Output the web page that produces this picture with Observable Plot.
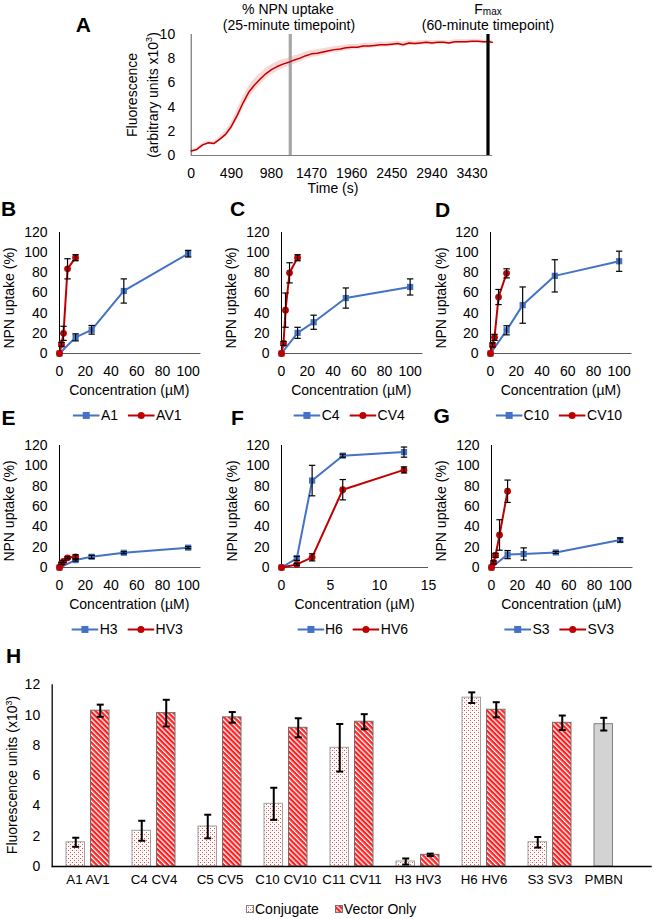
<!DOCTYPE html>
<html><head><meta charset="utf-8">
<script src="https://cdn.jsdelivr.net/npm/d3@7"></script>
<script src="https://cdn.jsdelivr.net/npm/@observablehq/plot@0.6"></script>
<style>
body{margin:0;background:#fff;font-family:"Liberation Sans",Arial,sans-serif;}
#root{position:relative;width:654px;height:919px;overflow:hidden;background:#fff;}
.abs{position:absolute;white-space:nowrap;color:#000;font-size:14px;line-height:1.15;}
svg{position:absolute;}
.leg svg{position:static;}
</style></head><body><div id="root"></div>
<script>
const FONT = "Liberation Sans, Arial, sans-serif";
const BLUE = "#4472C4", RED = "#C00000";

// ---------- Panel A data ----------
const aTime = [0,70,140,210,280,350,420,490,560,630,700,770,840,910,980,1050,1120,1190,1260,1330,1400,1470,1540,1610,1680,1750,1820,1890,1960,2030,2100,2170,2240,2310,2380,2450,2520,2590,2660,2730,2800,2870,2940,3010,3080,3150,3220,3290,3360,3430,3500,3570,3640,3680];
const aMean = [0.38,0.5,0.88,1.05,1.0,1.35,1.75,2.4,3.3,4.3,5.2,5.8,6.3,6.75,7.1,7.35,7.55,7.7,7.9,8.05,8.25,8.4,8.45,8.55,8.65,8.75,8.8,8.9,8.95,8.95,9.05,9.05,9.1,9.15,9.15,9.2,9.25,9.15,9.3,9.25,9.3,9.35,9.3,9.35,9.35,9.3,9.4,9.4,9.4,9.45,9.45,9.4,9.4,9.35];
const aErr  = [0.12,0.12,0.15,0.15,0.15,0.2,0.25,0.35,0.45,0.5,0.5,0.5,0.45,0.45,0.4,0.4,0.38,0.35,0.35,0.32,0.3,0.3,0.28,0.28,0.26,0.25,0.25,0.24,0.24,0.22,0.22,0.22,0.2,0.2,0.2,0.2,0.2,0.2,0.2,0.18,0.18,0.18,0.18,0.18,0.16,0.16,0.16,0.16,0.16,0.16,0.15,0.15,0.15,0.15];
const aTicks = [0,490,980,1470,1960,2450,2940,3430];
const aYTicks = [0,2,4,6,8,10];
const aTimepoints = [1210, 3625]; // 25-minute and 60-minute markers

// ---------- Panels B-G data ----------
const smallYTicks = [0,20,40,60,80,100,120];
const ticks100 = [0,20,40,60,80,100];
const ticks15 = [0,5,10,15];
const concConj = [0,12.5,25,50,100];
const concVec  = [0,1.56,3.125,6.25,12.5];
const concH6   = [0,1.56,3.125,6.25,12.5];

const A1  = [0,16,23.5,62,99],    A1e  = [0,3.5,4.3,12,3.3];
const AV1 = [0,9,20,84,95],       AV1e = [0,2,7,10,3];
const C4  = [0,20.5,31,55,66],    C4e  = [0,5.5,7,10,8];
const CV4 = [0,10,43,80,95],      CV4e = [0,2,17,10,3];
const C10 = [0,23,48,77,91.5],    C10e = [0,4.5,18,16,10];
const CV10= [0,8.5,16,56,79.5],   CV10e= [0,2,3,7.5,4.5];
const H3  = [0,7.3,10.5,14.5,19.5], H3e = [0,1,1.5,1,1];
const HV3 = [0,4,6,9.5,10.5],     HV3e = [0,1,1,1,2];
const H6  = [0,9,85.5,110,113.5], H6e  = [0,2,15,1.5,5];
const HV6 = [0,3,10,76.5,96],     HV6e = [0,1,3.5,10,3];
const S3  = [0,12.7,13.3,14.8,27], S3e = [0,4,6,1,2];
const SV3 = [0,5,12,32,75],       SV3e = [0,1.5,2,15,11];

// ---------- Panel H data ----------
const hCats = ["A1 AV1","C4 CV4","C5 CV5","C10 CV10","C11 CV11","H3 HV3","H6 HV6","S3 SV3","PMBN"];
const conjVals = [1.6,2.36,2.64,4.14,7.84,0.33,11.15,1.6];
const conjErr  = [0.3,0.66,0.78,1.06,1.57,0.2,0.35,0.35];
const vecVals  = [10.29,10.13,9.85,9.16,9.56,0.77,10.35,9.49];
const vecErr   = [0.4,0.88,0.35,0.63,0.5,0.08,0.5,0.48];
const pmbnVal = [9.4], pmbnErr = [0.42];
const hYTicks = [0,2,4,6,8,10,12];

// horizontal error-bar cap symbol (half-width = r)
const capSymbol = {draw(ctx, size) { const r = Math.sqrt(size / Math.PI); ctx.moveTo(-r, 0); ctx.lineTo(r, 0); }};

const root = document.getElementById("root");
function txt(html, x, y, o = {}) {
  const d = document.createElement("div");
  d.className = "abs";
  d.innerHTML = html;
  d.style.left = x + "px"; d.style.top = y + "px";
  d.style.fontSize = (o.size || 14) + "px";
  if (o.bold) d.style.fontWeight = "bold";
  if (o.align) d.style.textAlign = o.align;
  if (o.lh) d.style.lineHeight = o.lh;
  const tx = o.anchor === "start" ? "0" : "-50%";
  d.style.transform = `translate(${tx},-50%)` + (o.rotate ? ` rotate(${o.rotate}deg)` : "");
  root.appendChild(d);
  return d;
}
function place(svg, left, top) {
  svg.style.left = left + "px"; svg.style.top = top + "px";
  root.appendChild(svg);
}
const baseStyle = {fontFamily: FONT, fontSize: "14px", background: "transparent", overflow: "visible", color: "#000"};

// ---------- Panel A ----------
(function () {
  const data = aTime.map((t, i) => ({t, m: aMean[i], e: aErr[i]}));
  const x0 = 190.7, x1 = 492, yTop = 34, yBot = 155, left = 100, top = 20;
  const ml = x0 - left, mr = 10, mt = yTop - top, mb = 26;
  const svg = Plot.plot({
    width: (x1 - x0) + ml + mr, height: (yBot - yTop) + mt + mb,
    marginLeft: ml, marginRight: mr, marginTop: mt, marginBottom: mb,
    style: baseStyle,
    x: {domain: [0, 3680]},
    y: {domain: [0, 10]},
    marks: [
      Plot.axisX({ticks: aTicks, tickFormat: d => String(d), tickSize: 0, tickPadding: 13, label: null}),
      Plot.axisY({ticks: aYTicks, tickSize: 0, tickPadding: 16, label: null}),
      Plot.areaY(data, {x: "t", y1: d => d.m - d.e, y2: d => d.m + d.e, fill: "#f6c9c9", fillOpacity: 0.75}),
      Plot.ruleY([0], {stroke: "#7f7f7f"}),
      Plot.ruleX([0], {stroke: "#595959"}),
      Plot.ruleX(aTimepoints.slice(0, 1), {stroke: "#a6a6a6", strokeWidth: 3.2}),
      Plot.line(data, {x: "t", y: "m", stroke: RED, strokeWidth: 1.5}),
      Plot.ruleX(aTimepoints.slice(1), {stroke: "#000", strokeWidth: 3.2})
    ]
  });
  place(svg, left, top);
  txt("A", 83.3, 25, {size: 21, bold: true});
  txt("% NPN uptake", 288, 9);
  txt("(25-minute timepoint)", 289, 25);
  txt("F<sub style='font-size:10px;vertical-align:-1px'>max</sub>", 488, 9);
  txt("(60-minute timepoint)", 488, 25);
  txt("Time (s)", 333, 188);
  txt("Fluorescence<br>(arbitrary units x10<sup style='font-size:9px'>3</sup>)", 143, 95, {rotate: -90, align: "center", lh: "17px"});
})();

// ---------- Small panels ----------
function legend(items, cx, cy) {
  const d = document.createElement("div");
  d.className = "abs leg";
  d.style.display = "flex"; d.style.alignItems = "center"; d.style.gap = "10px";
  d.style.left = cx + "px"; d.style.top = cy + "px";
  d.style.transform = "translate(-50%,-50%)";
  d.innerHTML = items.map(({name, color, symbol}) => {
    const m = symbol === "square"
      ? `<rect x="10" y="2" width="7" height="7" fill="${color}"/>`
      : `<circle cx="13.5" cy="5.5" r="3.5" fill="${color}"/>`;
    return `<span style="display:flex;align-items:center;gap:1px"><svg width="27" height="11"><line x1="0" y1="5.5" x2="27" y2="5.5" stroke="${color}" stroke-width="2"/>${m}</svg><span>${name}</span></span>`;
  }).join("");
  root.appendChild(d);
}
function errMarks(data, o) {
  const {sw, cap, dx = 0} = o;
  return [
    Plot.link(data, {x1: o.x, x2: o.x, y1: d => d[o.y] - d.e, y2: d => d[o.y] + d.e, dx, stroke: "#000", strokeWidth: sw}),
    Plot.dot(data, {x: o.x, y: d => d[o.y] - d.e, dx, symbol: capSymbol, r: cap, stroke: "#000", strokeWidth: sw, fill: "none"}),
    Plot.dot(data, {x: o.x, y: d => d[o.y] + d.e, dx, symbol: capSymbol, r: cap, stroke: "#000", strokeWidth: sw, fill: "none"})
  ];
}
function smallPanel(p) {
  const {x0, x1, yTop, yBot, xDomain, xTicks, bx, by, be, rx, ry, re, bName, rName, letter, lx, ly} = p;
  const ml = 45, mr = 8, mt = 12, mb = 28;
  const blue = bx.map((x, i) => ({x, y: by[i], e: be[i]}));
  const red = rx.map((x, i) => ({x, y: ry[i], e: re[i]}));
  const errs = [...blue, ...red].filter(d => d.e > 0);
  const svg = Plot.plot({
    width: (x1 - x0) + ml + mr, height: (yBot - yTop) + mt + mb,
    marginLeft: ml, marginRight: mr, marginTop: mt, marginBottom: mb,
    style: baseStyle,
    x: {domain: xDomain},
    y: {domain: [0, 120]},
    marks: [
      Plot.axisX({ticks: xTicks, tickSize: 0, tickPadding: 13, label: null}),
      Plot.axisY({ticks: smallYTicks, tickSize: 0, tickPadding: 12, label: null}),
      Plot.ruleY([0], {stroke: "#595959"}),
      Plot.ruleX([0], {stroke: "#000"}),
      Plot.line(blue, {x: "x", y: "y", stroke: BLUE, strokeWidth: 2}),
      Plot.dot(blue, {x: "x", y: "y", symbol: "square", fill: BLUE, r: 3.5}),
      Plot.line(red, {x: "x", y: "y", stroke: RED, strokeWidth: 2}),
      Plot.dot(red, {x: "x", y: "y", symbol: "circle", fill: RED, r: 3.4}),
      ...errMarks(errs, {x: "x", y: "y", sw: 1.2, cap: 3.2})
    ]
  });
  place(svg, x0 - ml, yTop - mt);
  const cx = (x0 + x1) / 2;
  txt(letter, lx, ly, {size: 21, bold: true});
  txt("NPN uptake (%)", x0 - 49.5, (yTop + yBot) / 2 + 5, {rotate: -90});
  txt("Concentration (µM)", cx, yBot + 37);
  legend([{name: bName, color: BLUE, symbol: "square"}, {name: rName, color: RED, symbol: "circle"}], cx - 2, yBot + 62);
}
const R1 = {yTop: 232, yBot: 353}, R2 = {yTop: 445, yBot: 567};
const X100 = {xDomain: [0, 110], xTicks: ticks100};
smallPanel({...R1, ...X100, x0: 58.5, x1: 200, bx: concConj, by: A1, be: A1e, rx: concVec, ry: AV1, re: AV1e, bName: "A1", rName: "AV1", letter: "B", lx: 8.5, ly: 208.5});
smallPanel({...R1, ...X100, x0: 280.5, x1: 422, bx: concConj, by: C4, be: C4e, rx: concVec, ry: CV4, re: CV4e, bName: "C4", rName: "CV4", letter: "C", lx: 237.5, ly: 208.5});
smallPanel({...R1, ...X100, x0: 490, x1: 631.5, bx: concConj, by: C10, be: C10e, rx: concVec, ry: CV10, re: CV10e, bName: "C10", rName: "CV10", letter: "D", lx: 442.5, ly: 209.5});
smallPanel({...R2, ...X100, x0: 58.5, x1: 200, bx: concConj, by: H3, be: H3e, rx: concVec, ry: HV3, re: HV3e, bName: "H3", rName: "HV3", letter: "E", lx: 8.5, ly: 417.5});
smallPanel({...R2, xDomain: [0, 15], xTicks: ticks15, x0: 281, x1: 428, bx: concH6, by: H6, be: H6e, rx: concH6, ry: HV6, re: HV6e, bName: "H6", rName: "HV6", letter: "F", lx: 237.5, ly: 417.5});
smallPanel({...R2, ...X100, x0: 490.5, x1: 632, bx: concConj, by: S3, be: S3e, rx: concVec, ry: SV3, re: SV3e, bName: "S3", rName: "SV3", letter: "G", lx: 441.7, ly: 415.5});

// ---------- Panel H ----------
(function () {
  const x0 = 51.7, x1 = 651.7, yTop = 684.3, yBot = 866, left = 0, top = 670;
  const ml = x0 - left, mr = 654 - x1, mt = yTop - top, mb = 30;
  const conj = conjVals.map((v, i) => ({c: hCats[i], v, e: conjErr[i]}));
  const vec = vecVals.map((v, i) => ({c: hCats[i], v, e: vecErr[i]}));
  const pmbn = pmbnVal.map((v, i) => ({c: "PMBN", v, e: pmbnErr[i]}));
  const inset = 24.5, off = 12.25;
  const svg = Plot.plot({
    width: 654, height: (yBot - yTop) + mt + mb,
    marginLeft: ml, marginRight: mr, marginTop: mt, marginBottom: mb,
    style: baseStyle,
    x: {type: "band", domain: hCats, paddingInner: 0.355, paddingOuter: 0.1775, axis: null},
    y: {domain: [0, 12]},
    marks: [
      Plot.axisY({ticks: hYTicks, tickSize: 0, tickPadding: 12, label: null}),
      Plot.barY(conj, {x: "c", y: "v", fill: "url(#hDots)", stroke: "#a0a0a0", strokeWidth: 1, insetRight: inset}),
      Plot.barY(vec, {x: "c", y: "v", fill: "url(#hStripes)", stroke: "#6f6f6f", strokeWidth: 1, insetLeft: inset}),
      Plot.barY(pmbn, {x: "c", y: "v", fill: "#d3d3d3", stroke: "#7f7f7f", strokeWidth: 1, insetRight: inset}),
      ...errMarks(conj, {x: "c", y: "v", sw: 2, cap: 3.5, dx: -off}),
      ...errMarks(vec, {x: "c", y: "v", sw: 2, cap: 3.5, dx: off}),
      ...errMarks(pmbn, {x: "c", y: "v", sw: 2, cap: 3.5, dx: -off}),
      Plot.ruleY([0], {stroke: "#000", strokeWidth: 1.3}),
      Plot.frame({anchor: "left", stroke: "#000", strokeWidth: 1.3}),
      Plot.text(hCats.slice(0, 8), {x: d => d, frameAnchor: "bottom", dy: 17, fontSize: 13.3}),
      Plot.text(hCats.slice(8), {x: d => d, frameAnchor: "bottom", dy: 17, dx: -off, fontSize: 13.3})
    ]
  });
  const defs = d3.select(svg).insert("defs", ":first-child");
  const dots = defs.append("pattern").attr("id", "hDots").attr("patternUnits", "userSpaceOnUse").attr("width", 4).attr("height", 4);
  dots.append("rect").attr("width", 4).attr("height", 4).attr("fill", "#fff");
  dots.append("rect").attr("x", 0).attr("y", 0).attr("width", 1).attr("height", 1).attr("fill", "#f24a4a");
  dots.append("rect").attr("x", 2).attr("y", 2).attr("width", 1).attr("height", 1).attr("fill", "#f24a4a");
  dots.append("rect").attr("x", 2).attr("y", 0).attr("width", 1).attr("height", 1).attr("fill", "#fbd0d0");
  const st = defs.append("pattern").attr("id", "hStripes").attr("patternUnits", "userSpaceOnUse").attr("width", 3.6).attr("height", 3.6).attr("patternTransform", "rotate(-45)");
  st.append("rect").attr("width", 3.6).attr("height", 3.6).attr("fill", "#ff1f1f");
  st.append("rect").attr("width", 1.3).attr("height", 3.6).attr("fill", "#fff");
  place(svg, left, top);
  txt("H", 13.7, 655.7, {size: 21, bold: true});
  txt("Fluorescence units (x10<sup style='font-size:9px'>3</sup>)", 12, 775, {rotate: -90});
  const lg = document.createElement("div");
  lg.className = "abs leg";
  lg.style.left = "246px"; lg.style.top = "909px"; lg.style.transform = "translate(0,-50%)";
  lg.style.display = "flex"; lg.style.alignItems = "center";
  lg.innerHTML = `<svg width="8" height="8"><rect x="0.5" y="0.5" width="7" height="7" fill="url(#hDots)" stroke="#7f7f7f"/></svg><span style="margin-left:1px">Conjugate</span>` +
    `<svg width="8" height="8" style="margin-left:16px"><rect x="0.5" y="0.5" width="7" height="7" fill="url(#hStripes)" stroke="#6f6f6f"/></svg><span style="margin-left:1px">Vector Only</span>`;
  root.appendChild(lg);
})();
</script></body></html>
